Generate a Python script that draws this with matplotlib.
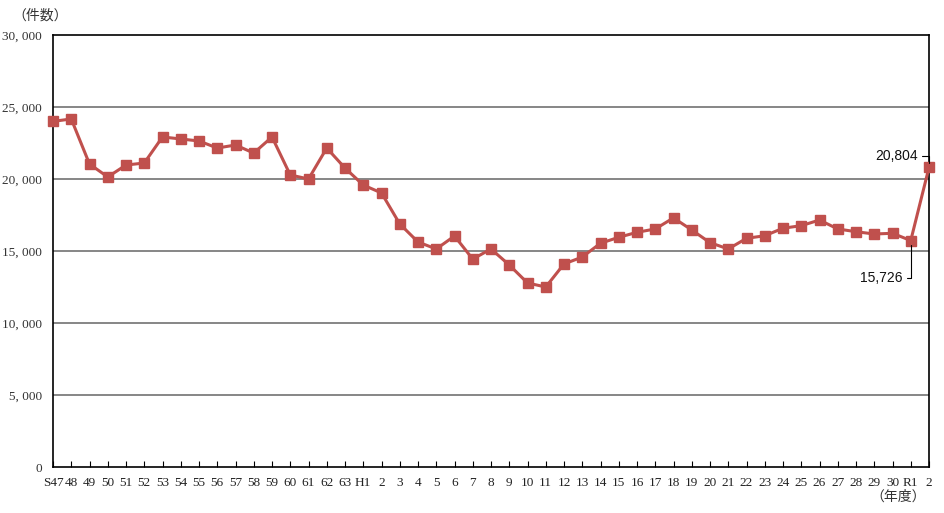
import matplotlib
matplotlib.use("Agg")
import matplotlib.pyplot as plt
import numpy as np

# fiscal year labels (Showa 47 .. Reiwa 2)
years = ["S47", "48", "49", "50", "51", "52", "53", "54", "55", "56", "57",
         "58", "59", "60", "61", "62", "63", "H1", "2", "3", "4", "5", "6",
         "7", "8", "9", "10", "11", "12", "13", "14", "15", "16", "17", "18",
         "19", "20", "21", "22", "23", "24", "25", "26", "27", "28", "29",
         "30", "R1", "2"]

# number of cases
cases = [24000, 24170, 21040, 20140, 20970, 21110, 22920, 22780, 22640,
         22150, 22360, 21800, 22920, 20280, 20000, 22150, 20760, 19580,
         19030, 16880, 15625, 15140, 16040, 14440, 15140, 14030, 12780,
         12500, 14100, 14580, 15540, 15950, 16300, 16530, 17300, 16460,
         15580, 15140, 15880, 16060, 16580, 16760, 17150, 16530, 16340,
         16180, 16230, 15726, 20804]

yticks = [0, 5000, 10000, 15000, 20000, 25000, 30000]

RED = "#C0504D"
serif = ["Liberation Serif", "DejaVu Serif"]
jp = ["Noto Sans CJK JP", "DejaVu Sans"]
sans = ["Liberation Sans", "DejaVu Sans"]

fig = plt.figure(figsize=(9.44, 5.13), dpi=100)
ax = fig.add_axes([53 / 944, 46 / 513, 876 / 944, 432 / 513])

x = np.arange(len(cases))
ax.plot(x, cases, color=RED, lw=2.2, marker="s", ms=6.5,
        markerfacecolor=RED, markeredgecolor=RED, zorder=3, clip_on=False)

ax.set_xlim(0, len(cases) - 1)
ax.set_ylim(0, 30000)

ax.set_yticks(yticks)
ax.set_yticklabels(["0" if v == 0 else f"{v // 1000}, {v % 1000:03d}" for v in yticks],
                   family=serif, fontsize=9.5, color="#333333")
ax.set_xticks(x)
ax.set_xticklabels(years, family=serif, fontsize=9.5, color="#222222")

for v in yticks[1:-1]:
    ax.axhline(v, color="#666666", lw=1.1, zorder=1)

for s in ax.spines.values():
    s.set_color("black")
    s.set_linewidth(1.2)

ax.tick_params(axis="x", direction="in", length=4, width=0.8, pad=7)
ax.tick_params(axis="y", length=0, pad=8)

fig.text(12 / 944, 1 - 16 / 513, "（件数）", family=jp, fontsize=10,
         va="center", ha="left", color="#333333")
fig.text(926 / 944, 1 - 497 / 513, "（年度）", family=jp, fontsize=10,
         va="center", ha="right", color="#333333")

# callouts for the last two years
ax.annotate(f"{cases[-1]:,}", xy=(x[-1], cases[-1]), xytext=(-8, 8),
            textcoords="offset points", ha="right", va="center",
            family=sans, fontsize=10, color="#111111",
            arrowprops=dict(arrowstyle="-", color="black", lw=0.8,
                            shrinkA=1, shrinkB=3,
                            connectionstyle="angle,angleA=0,angleB=90,rad=0"))
ax.annotate(f"{cases[-2]:,}", xy=(x[-2], cases[-2]), xytext=(-6, -27),
            textcoords="offset points", ha="right", va="center",
            family=sans, fontsize=10, color="#111111",
            arrowprops=dict(arrowstyle="-", color="black", lw=0.8,
                            shrinkA=1, shrinkB=3,
                            connectionstyle="angle,angleA=0,angleB=90,rad=0"))

fig.savefig("out.png", dpi=100)
